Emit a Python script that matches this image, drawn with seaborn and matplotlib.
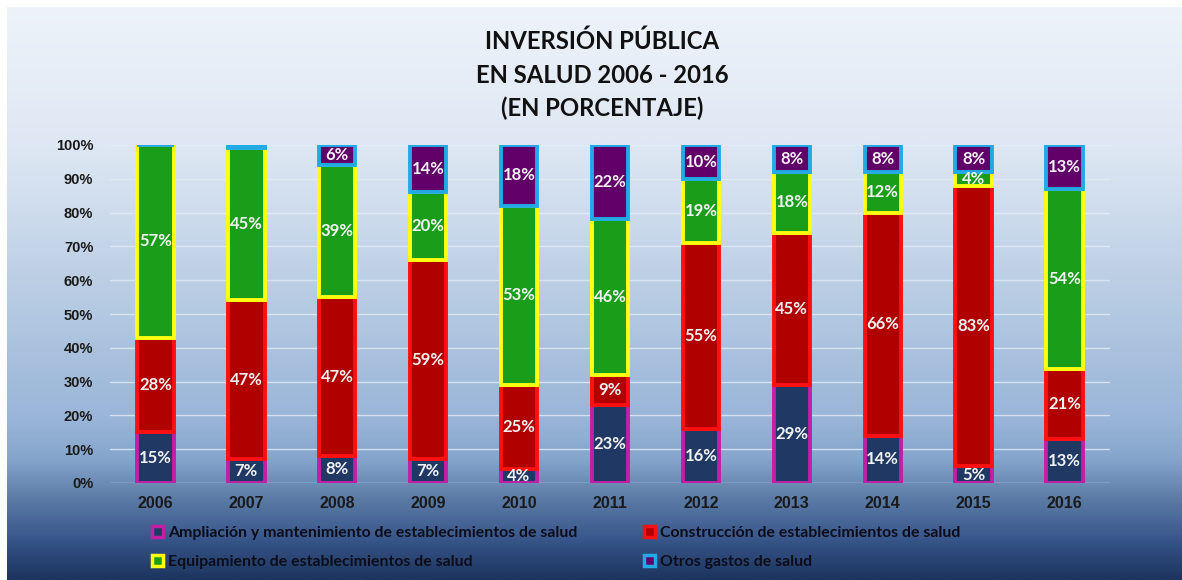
import numpy as np
import pandas as pd
import matplotlib
matplotlib.use("Agg")
import matplotlib.pyplot as plt
import seaborn as sns
from matplotlib.colors import LinearSegmentedColormap
from matplotlib.patches import Patch

# ---------------- data ----------------
years = ["2006", "2007", "2008", "2009", "2010", "2011", "2012", "2013", "2014", "2015", "2016"]
ampliacion = [15, 7, 8, 7, 4, 23, 16, 29, 14, 5, 13]
construccion = [28, 47, 47, 59, 25, 9, 55, 45, 66, 83, 21]
equipamiento = [57, 45, 39, 20, 53, 46, 19, 18, 12, 4, 54]
otros = [0, 1, 6, 14, 18, 22, 10, 8, 8, 8, 13]

series_names = [
    "Ampliación y mantenimiento de establecimientos de salud",
    "Construcción de establecimientos de salud",
    "Equipamiento de establecimientos de salud",
    "Otros gastos de salud",
]
yticks = [0, 10, 20, 30, 40, 50, 60, 70, 80, 90, 100]

title_lines = ["INVERSIÓN PÚBLICA", "EN SALUD 2006 - 2016", "(EN PORCENTAJE)"]

# ---------------- style ----------------
sns.set_theme(style="white")
plt.rcParams["font.family"] = ["Lato", "DejaVu Sans"]

fills = ["#1f3864", "#b00000", "#1a9e1a", "#600068"]
edges = ["#c21ea6", "#ff1010", "#ffff10", "#22aae6"]

fig = plt.figure(figsize=(11.82, 5.80), dpi=100)
fig.patch.set_facecolor("white")

# gradient background
bg = fig.add_axes([7 / 1182, 0, 1 - 7 / 1182, 1 - 7 / 580])
stops = [
    (0.00, "#eef3fa"),
    (0.25, "#dde7f3"),
    (0.51, "#b7cbe3"),
    (0.72, "#99b5d8"),
    (0.79, "#86a5cc"),
    (0.86, "#5b7ba6"),
    (0.93, "#38568a"),
    (1.00, "#1c345e"),
]
cmap = LinearSegmentedColormap.from_list("bg", stops)
grad = np.linspace(0, 1, 512).reshape(-1, 1)
bg.imshow(grad, aspect="auto", cmap=cmap, extent=[0, 1, 0, 1], origin="upper")
bg.set_axis_off()

ax = fig.add_axes([110 / 1182, 1 - 483 / 580, 1000 / 1182, (483 - 145) / 580])
ax.patch.set_alpha(0)

df = pd.DataFrame({
    "year": years,
    series_names[0]: ampliacion,
    series_names[1]: construccion,
    series_names[2]: equipamiento,
    series_names[3]: otros,
})
totals = df[series_names].sum(axis=1).to_numpy(dtype=float)
bottom = np.zeros(len(years))
for i, name in enumerate(series_names):
    frac = df[name].to_numpy(dtype=float) / totals * 100
    tmp = pd.DataFrame({"year": years, "val": frac})
    sns.barplot(data=tmp, x="year", y="val", color=fills[i], edgecolor=edges[i],
                linewidth=2.8, width=0.40, bottom=bottom, ax=ax, saturation=1,
                errorbar=None, zorder=3)
    bottom = bottom + frac

for i, cont in enumerate(ax.containers):
    raw = df[series_names[i]].to_numpy()
    labels = [f"{v}%" if v >= 3 else "" for v in raw]
    ax.bar_label(cont, labels=labels, label_type="center", color="#f2f2f2",
                 fontsize=12, fontweight="bold", zorder=5)

ax.set_xlim(-0.5, len(years) - 0.5)
ax.set_ylim(0, 100)
ax.set_yticks(yticks)
ax.set_yticklabels([f"{t}%" for t in yticks])
ax.yaxis.grid(True, color="#e4ecf5", linewidth=1.0, alpha=0.8, zorder=0)
ax.set_axisbelow(True)
for s in ax.spines.values():
    s.set_visible(False)
ax.set_xlabel("")
ax.set_ylabel("")
ax.tick_params(axis="both", length=0)
ax.tick_params(axis="y", pad=12)
ax.tick_params(axis="x", pad=9)
for lab in ax.get_yticklabels():
    lab.set_fontfamily(["Liberation Sans", "DejaVu Sans"])
    lab.set_fontweight("bold")
    lab.set_fontsize(10.5)
    lab.set_color("#1a1a1a")
for lab in ax.get_xticklabels():
    lab.set_fontfamily(["Liberation Sans", "DejaVu Sans"])
    lab.set_fontweight("bold")
    lab.set_fontsize(11.5)
    lab.set_color("#1a1a1a")

for line, yb in zip(title_lines, [49, 83, 116]):
    fig.text(602 / 1182, 1 - yb / 580, line, ha="center", va="baseline", fontsize=17.2,
             fontweight="bold", color="#111111")

handles = [Patch(facecolor=fills[i], edgecolor=edges[i], linewidth=2.5) for i in range(4)]
order = [0, 2, 1, 3]
leg = fig.legend([handles[i] for i in order], [series_names[i] for i in order],
                 ncol=2, loc="upper left", bbox_to_anchor=(138 / 1182, 1 - 512 / 580),
                 frameon=False, handlelength=0.7, handleheight=0.7, handletextpad=0.3,
                 columnspacing=4.2, labelspacing=0.9,
                 prop={"family": "Lato", "weight": "bold", "size": 11.4})
for t in leg.get_texts():
    t.set_color("#0d0d1a")

fig.savefig("out.png", dpi=100, facecolor=fig.get_facecolor())
